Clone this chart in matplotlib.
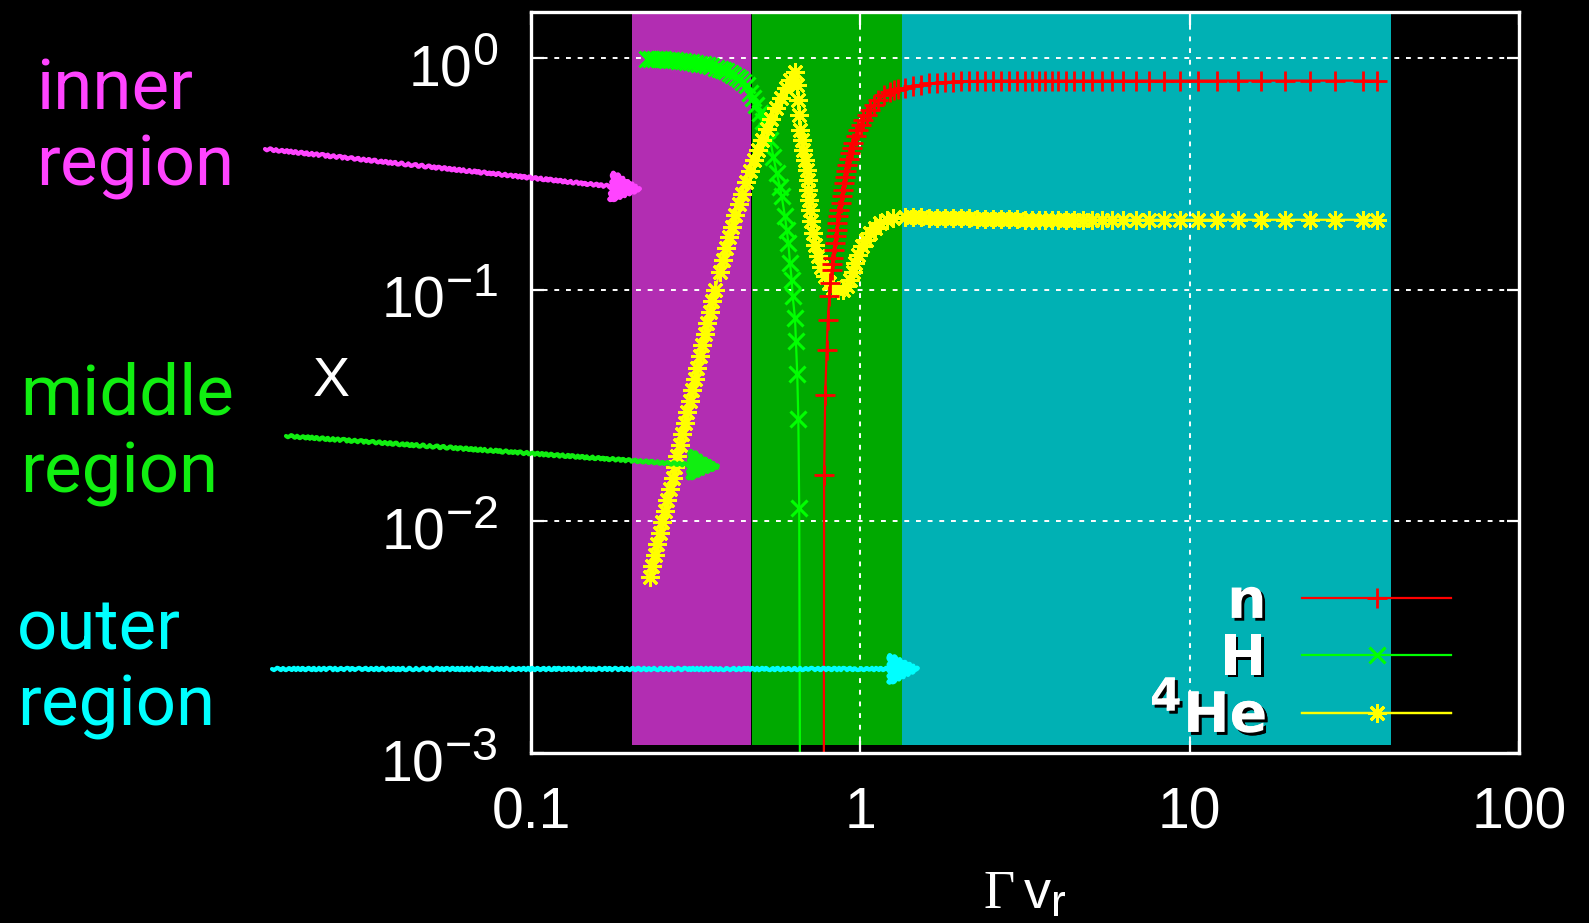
import matplotlib
matplotlib.use('Agg')
import matplotlib.pyplot as plt
import matplotlib.patheffects as pe
import matplotlib.transforms as mtransforms
import matplotlib._mathtext as mathtext_internal
from matplotlib.ticker import FixedLocator, NullLocator, LogFormatterMathtext

plt.rcParams['font.family'] = 'Liberation Sans'
plt.rcParams['mathtext.fontset'] = 'custom'
plt.rcParams['mathtext.rm'] = 'Liberation Sans'
plt.rcParams['mathtext.bf'] = 'DejaVu Sans:bold'
plt.rcParams['mathtext.sf'] = 'Liberation Serif'
# gnuplot-like exponents are larger than the mathtext default
mathtext_internal.SHRINK_FACTOR = 0.82

# shaded regions (inner / middle / outer) in Gamma v_r
region_lo = [0.203, 0.469, 1.335]
region_hi = [0.466, 1.335, 40.9]
region_colors = ['#b22db2', '#00a900', '#00b1b4']

# n
gv_n = [0.774, 0.776, 0.782, 0.790, 0.796, 0.8047, 0.811, 0.818, 0.8228, 0.8276,
        0.8325, 0.8374, 0.8423, 0.8472, 0.852, 0.8568, 0.864, 0.8713, 0.8775, 0.8837,
        0.891, 0.8981, 0.9054, 0.9127, 0.9213, 0.930, 0.941, 0.952, 0.968, 0.9854,
        1.0025, 1.020, 1.044, 1.069, 1.10, 1.133, 1.18, 1.230, 1.265, 1.300]
X_n = [3e-4, 0.0158, 0.0352, 0.0551, 0.0741, 0.0935, 0.107, 0.1218, 0.129, 0.1368,
       0.1475, 0.1588, 0.170, 0.1812, 0.194, 0.2067, 0.221, 0.2361, 0.2525, 0.2694,
       0.288, 0.3074, 0.326, 0.3451, 0.366, 0.3879, 0.408, 0.428, 0.459, 0.4886,
       0.514, 0.5395, 0.568, 0.5956, 0.628, 0.658, 0.688, 0.714, 0.723, 0.730]

# H
gv_h = [0.2249, 0.2313, 0.2378, 0.2446, 0.2516, 0.2588, 0.2661, 0.2737, 0.2814, 0.2894,
        0.2976, 0.306, 0.3147, 0.324, 0.3334, 0.343, 0.353, 0.364, 0.375, 0.383,
        0.392, 0.401, 0.411, 0.421, 0.431, 0.441, 0.4517, 0.462, 0.472, 0.4836,
        0.4956, 0.5075, 0.5194, 0.5317, 0.5441, 0.5569, 0.5699, 0.5768, 0.5902, 0.5975,
        0.6041, 0.6113, 0.6185, 0.6228, 0.633, 0.6372, 0.643, 0.648, 0.652, 0.656]
X_h = [0.99, 0.989, 0.988, 0.986, 0.984, 0.982, 0.979, 0.976, 0.972, 0.967,
       0.962, 0.957, 0.951, 0.944, 0.936, 0.927, 0.918, 0.908, 0.897, 0.885,
       0.873, 0.858, 0.843, 0.825, 0.806, 0.785, 0.763, 0.705, 0.671, 0.6231,
       0.5767, 0.532, 0.4886, 0.4422, 0.375, 0.318, 0.2783, 0.2521, 0.2067, 0.1812,
       0.1588, 0.1302, 0.1103, 0.0935, 0.0754, 0.0598, 0.0434, 0.0275, 0.0114, 5e-4]

# 4He
gv_he = [0.2297, 0.2338, 0.2379, 0.2421, 0.2464, 0.2507, 0.2551, 0.2596, 0.2642, 0.2689,
         0.2736, 0.2784, 0.2833, 0.2883, 0.2934, 0.2986, 0.3038, 0.3092, 0.3146, 0.3202,
         0.3258, 0.3316, 0.3374, 0.3434, 0.3494, 0.3556, 0.3619, 0.3735, 0.3814, 0.3895,
         0.3978, 0.4062, 0.4163, 0.4266, 0.4370, 0.4494, 0.4622, 0.4753, 0.4887, 0.5043,
         0.5204, 0.5370, 0.5542, 0.5740, 0.5943, 0.6134, 0.6330,
         0.6420, 0.6479, 0.6520, 0.6557, 0.6635, 0.6709, 0.6789, 0.6870, 0.6909, 0.6947,
         0.6991, 0.7031, 0.7104, 0.7194, 0.7306, 0.7450, 0.7619, 0.7807, 0.8028, 0.8275,
         0.8551, 0.8872, 0.9106, 0.9299, 0.9463, 0.9630, 0.9834, 1.0091, 1.0363, 1.0694,
         1.1074, 1.1470, 1.2002, 1.2585]
X_he = [0.00574, 0.00640, 0.00714, 0.00797, 0.00890, 0.00993, 0.01108, 0.01236, 0.01379, 0.01539,
        0.01718, 0.01917, 0.02139, 0.02387, 0.02663, 0.02972, 0.03316, 0.03701, 0.04130, 0.04608,
        0.05142, 0.05738, 0.06404, 0.07146, 0.07974, 0.08898, 0.09929, 0.1193, 0.1344, 0.1514,
        0.1685, 0.1861, 0.2088, 0.2331, 0.2587, 0.2914, 0.3247, 0.3610, 0.3995, 0.4432,
        0.4918, 0.5459, 0.6057, 0.6705, 0.7404, 0.8030, 0.8712,
        0.7637, 0.658, 0.5668, 0.4886, 0.4423, 0.4007, 0.3628, 0.3286, 0.2976, 0.2694,
        0.2439, 0.2209, 0.1981, 0.1753, 0.1561, 0.139, 0.1255, 0.114, 0.1071, 0.1016,
        0.0999, 0.0999, 0.1039, 0.1103, 0.1194, 0.1302, 0.1414, 0.1535, 0.1641, 0.1753,
        0.1848, 0.1936, 0.2000, 0.2040]

# outer part, n and 4He sampled at the same points
gv_tail = [1.366, 1.444, 1.528, 1.616, 1.708, 1.806, 1.910, 2.020, 2.136, 2.259,
           2.389, 2.526, 2.672, 2.825, 2.988, 3.160, 3.320, 3.480, 3.635, 3.810,
           3.990, 4.200, 4.450, 4.730, 5.040, 5.400, 5.800, 6.290, 6.870, 7.540,
           8.350, 9.340, 10.60, 12.10, 14.00, 16.50, 19.40, 23.20, 27.60, 33.60, 36.90]
X_n_tail = [0.742, 0.755, 0.766, 0.775, 0.781, 0.786, 0.789, 0.792, 0.794, 0.795,
            0.796, 0.796, 0.797, 0.797, 0.797, 0.797, 0.797, 0.797, 0.797, 0.797,
            0.797, 0.797, 0.797, 0.797, 0.797, 0.797, 0.797, 0.797, 0.797, 0.797,
            0.797, 0.797, 0.797, 0.797, 0.797, 0.797, 0.797, 0.797, 0.797, 0.797, 0.797]
X_he_tail = [0.205, 0.205, 0.205, 0.204, 0.204, 0.204, 0.203, 0.203, 0.203, 0.202,
             0.202, 0.202, 0.201, 0.201, 0.201, 0.200, 0.200, 0.200, 0.200, 0.200,
             0.200, 0.200, 0.200, 0.200, 0.200, 0.200, 0.200, 0.200, 0.200, 0.200,
             0.200, 0.200, 0.200, 0.200, 0.200, 0.200, 0.200, 0.200, 0.200, 0.200, 0.200]

labels = ['n', 'H', r'$^{\mathbf{4}}$He']
xticks = [0.1, 1, 10, 100]
xticklabels = ['0.1', '1', '10', '100']

W, H = 1589, 923
fig = plt.figure(figsize=(W / 100, H / 100), dpi=100, facecolor='black')
ax = fig.add_axes([531 / W, 170 / H, 988.2 / W, 740.8 / H])
ax.set_facecolor('black')

for lo, hi, c in zip(region_lo, region_hi, region_colors):
    ax.axvspan(lo, hi, ymin=0.011, ymax=1, color=c, lw=0, zorder=0.5)

lh, = ax.plot(gv_h, X_h, color='#00ff00', lw=1.6, marker='x', ms=12, mew=2.2,
              zorder=3)
lhe, = ax.plot(gv_he + gv_tail, X_he + X_he_tail, color='#ffff00', lw=1.6,
               marker=(8, 2, 0), ms=13.5, mew=2, zorder=4)
ln, = ax.plot(gv_n + gv_tail, X_n + X_n_tail, color='#ff0000', lw=1.6,
              marker='+', ms=14, mew=2, zorder=5)

ax.set_xscale('log')
ax.set_yscale('log')
ax.set_xlim(0.1, 100)
ax.set_ylim(1e-3, 1.573)

ax.xaxis.set_major_locator(FixedLocator(xticks))
ax.set_xticklabels(xticklabels)
ax.xaxis.set_minor_locator(NullLocator())
ax.yaxis.set_major_locator(FixedLocator([1e-3, 1e-2, 1e-1, 1]))
ax.yaxis.set_major_formatter(LogFormatterMathtext())
ax.yaxis.set_minor_locator(NullLocator())

ax.tick_params(which='major', direction='in', length=9, width=1.6, colors='white',
               labelsize=41, top=True, right=True)
ax.tick_params(axis='x', pad=24)
ax.tick_params(axis='y', pad=24)
for s in ax.spines.values():
    s.set_color('white')
    s.set_linewidth(2.4)
    s.set_zorder(6)

# y tick labels sit a little below their ticks
shift = mtransforms.ScaledTranslation(0, -5 / 100, fig.dpi_scale_trans)
for tk in ax.yaxis.get_major_ticks():
    tk.label1.set_transform(tk.label1.get_transform() + shift)

ax.grid(True, which='major', color='white', linestyle=(0, (2.5, 3.5)), lw=1.4)

ax.set_xlabel(r'$\mathsf{\Gamma}\,\mathrm{v}_{\mathrm{r}}$', color='white', fontsize=39)
ax.xaxis.set_label_coords(0.5, -0.157)
ax.set_ylabel('X', color='white', fontsize=40, rotation=0, va='center', ha='center')
ax.yaxis.set_label_coords(-0.2025, 0.501)

# one key row per species, stacked like gnuplot's key
row_y = [0.2026, 0.126, 0.0535]
for handle, lab, yy in zip([ln, lh, lhe], labels, row_y):
    leg = ax.legend([handle], [lab], loc='center right', bbox_to_anchor=(0.931, yy),
                    frameon=False, markerfirst=False, handlelength=2.68, handletextpad=0.64,
                    borderaxespad=0, borderpad=0,
                    prop={'family': 'DejaVu Sans', 'weight': 'bold', 'size': 40})
    for t in leg.get_texts():
        t.set_color('white')
        t.set_path_effects([pe.withSimplePatchShadow(offset=(2, -2), shadow_rgbFace='black',
                                                     alpha=1)])
    ax.add_artist(leg)

# region labels and arrows
notes = [('inner', 'region', '#ff44ff', 36, 109, 185, (265, 149), (644, 190)),
         ('middle', 'region', '#11ee11', 20, 415, 492, (286, 436), (722, 467)),
         ('outer', 'region', '#00ffff', 17, 650, 725, (272, 669), (922, 669))]
for w1, w2, c, x0, y1, y2, tail, head in notes:
    fig.text(x0 / W, 1 - y1 / H, w1, color=c, fontsize=51, family='Roboto', va='baseline')
    fig.text(x0 / W, 1 - y2 / H, w2, color=c, fontsize=51, family='Roboto', va='baseline')
    a = ax.annotate('', xy=(head[0] / W, 1 - head[1] / H), xycoords='figure fraction',
                    xytext=(tail[0] / W, 1 - tail[1] / H), textcoords='figure fraction',
                    arrowprops=dict(arrowstyle='-|>', color=c, lw=3, mutation_scale=50,
                                    shrinkA=0, shrinkB=0),
                    annotation_clip=False, zorder=7)
    a.arrow_patch.set_sketch_params(1.2, 6, 2)

fig.savefig('out.png', dpi=100, facecolor='black')
